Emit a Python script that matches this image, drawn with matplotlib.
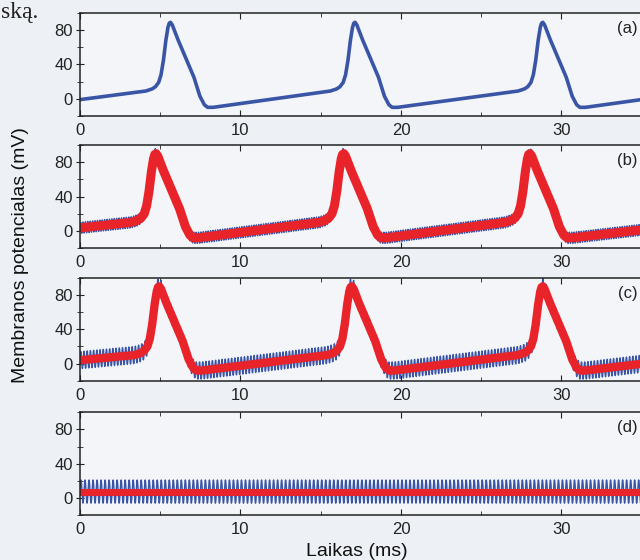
import numpy as np
import matplotlib.pyplot as plt
from matplotlib.ticker import MultipleLocator

plt.rcParams['font.family'] = ['Liberation Sans', 'DejaVu Sans']

# one action potential, time from peak (ms) vs potential (mV)
spike_dt = [-1.5, -1.1, -0.9, -0.7, -0.55, -0.4, -0.25, -0.12, -0.04, 0.04, 0.15,
            0.5, 1.0, 1.5, 1.87, 2.15, 2.35, 2.7]
spike_mv_a = [9, 11.5, 14, 19, 28, 45, 68, 83, 88, 89, 86, 69, 47, 25, 3, -7, -10, -10]
spike_mv_bc = [10, 12.5, 15, 20, 29, 46, 69, 84, 89, 90, 87, 70, 48, 26, 5, -5, -8, -8]

# peak times (ms) of each panel
peaks_a = [5.6, 17.1, 28.8]
peaks_b = [4.7, 16.4, 28.0]
peaks_c = [4.9, 16.9, 28.8]

# potential at start / end of the window (mV)
start_mv = {'a': -1, 'b': 3.5, 'c': 4, 'd': 7.5}
end_mv = {'a': 12, 'b': 12, 'c': 11, 'd': 7.5}

# high-frequency stimulus seen as blue stripes: amplitude (mV), period (ms)
stim_amp = {'b': 6.5, 'c': 10, 'd': 13.5}
stim_period = {'b': 0.15, 'c': 0.2, 'd': 0.25}

t_end = 40.0
blue = '#3a55a6'
red = '#e8232a'


def keypoints(peaks, shape, p):
    t = [0.0]
    v = [start_mv[p]]
    for tp in peaks:
        t += [tp + d for d in spike_dt]
        v += shape
    t.append(t_end)
    v.append(end_mv[p])
    return np.array(t), np.array(v)


traces = {
    'a': keypoints(peaks_a, spike_mv_a, 'a'),
    'b': keypoints(peaks_b, spike_mv_bc, 'b'),
    'c': keypoints(peaks_c, spike_mv_bc, 'c'),
    'd': (np.array([0.0, t_end]), np.array([start_mv['d'], end_mv['d']])),
}

fig = plt.figure(figsize=(6.4, 5.6), dpi=100, facecolor='#edf0f5')
bottoms = [0.793, 0.557, 0.320, 0.080]
red_lw = {'b': 6.5, 'c': 6, 'd': 5}

for p, b in zip('abcd', bottoms):
    ax = fig.add_axes([0.125, b, 1.003, 0.184])
    ax.set_facecolor('#f3f5f9')
    t, v = traces[p]
    if p == 'a':
        ax.plot(t, v, color=blue, lw=2.6, solid_joinstyle='round')
    else:
        tt = np.arange(0, t_end, stim_period[p] / 16)
        base = np.interp(tt, t, v)
        ax.plot(tt, base + stim_amp[p] * np.sin(2 * np.pi * tt / stim_period[p]),
                color=blue, lw=1.0)
        ax.plot(t, v, color=red, lw=red_lw[p], solid_joinstyle='round',
                solid_capstyle='round')
    ax.set_xlim(0, t_end)
    ax.set_ylim(-20, 100)
    ax.set_yticks([0, 40, 80])
    ax.set_xticks([0, 10, 20, 30])
    ax.xaxis.set_minor_locator(MultipleLocator(5))
    ax.yaxis.set_minor_locator(MultipleLocator(20))
    ax.tick_params(axis='x', which='both', direction='in', top=True, labelsize=12,
                   colors='#222222', pad=5)
    ax.tick_params(axis='x', which='major', length=4)
    ax.tick_params(axis='x', which='minor', length=3)
    ax.tick_params(axis='y', which='both', direction='inout', labelsize=12,
                   colors='#222222', pad=2)
    ax.tick_params(axis='y', which='major', length=6)
    ax.tick_params(axis='y', which='minor', length=4)
    for s in ax.spines.values():
        s.set_color('#222222')
        s.set_linewidth(1.1)
    fig.text(0.996, b + 0.184 - 0.028, '(%s)' % p, ha='right', va='center',
             fontsize=12, color='#222222')

fig.text(0.032, 0.545, 'Membranos potencialas (mV)', rotation=90, ha='center',
         va='center', fontsize=14, color='#111111')
fig.text(0.558, 0.016, 'Laikas (ms)', ha='center', va='center', fontsize=14,
         color='#111111')
fig.text(0.002, 0.997, 'ską.', ha='left', va='top', fontsize=17,
         family='Liberation Serif', color='#222222')

fig.savefig('out.png', dpi=100, facecolor=fig.get_facecolor())
